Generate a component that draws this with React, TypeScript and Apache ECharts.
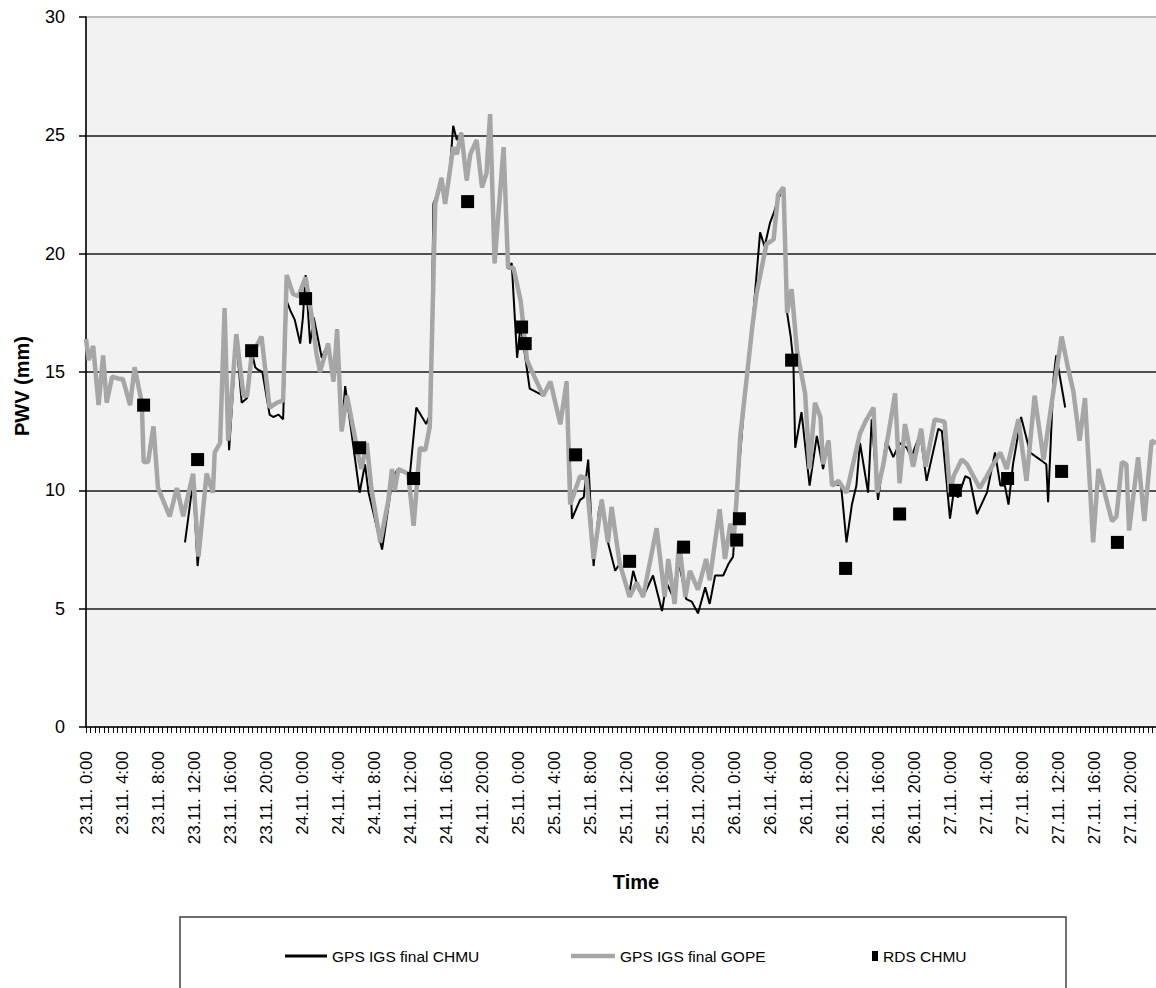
import React, { useEffect, useRef } from "react";
import * as echarts from "echarts";

// Time axis: hours since 23.11. 0:00
const TICK_LABELS = [
  "23.11. 0:00", "23.11. 4:00", "23.11. 8:00", "23.11. 12:00", "23.11. 16:00", "23.11. 20:00",
  "24.11. 0:00", "24.11. 4:00", "24.11. 8:00", "24.11. 12:00", "24.11. 16:00", "24.11. 20:00",
  "25.11. 0:00", "25.11. 4:00", "25.11. 8:00", "25.11. 12:00", "25.11. 16:00", "25.11. 20:00",
  "26.11. 0:00", "26.11. 4:00", "26.11. 8:00", "26.11. 12:00", "26.11. 16:00", "26.11. 20:00",
  "27.11. 0:00", "27.11. 4:00", "27.11. 8:00", "27.11. 12:00", "27.11. 16:00", "27.11. 20:00",
];

// GPS IGS final GOPE (gray)
const GOPE_T = [
  0.0, 0.3, 0.8, 1.4, 1.9, 2.3, 2.9, 3.8, 4.1, 4.9, 5.4, 6.2, 6.4, 6.9, 7.5, 8.0, 9.3, 10.1, 10.8, 11.9,
  12.5, 13.4, 14.1, 14.3, 14.9, 15.4, 15.8, 16.7, 17.5, 17.9, 18.4, 19.5, 20.4, 21.2, 21.9, 22.3, 23.0, 23.6, 24.4, 25.1,
  25.6, 26.0, 26.9, 27.5, 27.9, 28.4, 29.0, 30.3, 30.6, 31.2, 31.7, 32.7, 33.6, 34.0, 34.3, 34.7, 35.8, 36.4, 37.1, 37.7,
  38.2, 38.8, 39.5, 39.9, 40.4, 40.8, 41.2, 41.7, 42.3, 42.7, 43.4, 44.0, 44.5, 44.9, 45.4, 46.4, 46.9, 47.5, 48.3, 49.0,
  49.7, 50.8, 51.6, 52.7, 53.4, 53.8, 54.9, 55.6, 56.4, 57.3, 58.0, 58.4, 59.3, 60.4, 61.2, 61.9, 63.4, 64.3, 64.7, 65.4,
  65.9, 66.6, 67.1, 68.0, 68.9, 69.3, 70.4, 71.0, 71.6, 71.9, 72.3, 72.7, 73.4, 74.0, 74.5, 75.6, 76.4, 76.9, 77.5, 77.9,
  78.4, 79.0, 79.9, 80.4, 81.0, 81.6, 81.9, 82.5, 82.9, 83.6, 84.5, 86.0, 86.6, 87.5, 87.9, 88.6, 89.9, 90.4, 91.0, 91.9,
  92.8, 93.3, 94.3, 95.4, 96.0, 96.4, 97.3, 97.9, 99.3, 100.1, 100.8, 101.6, 102.3, 103.6, 104.5, 105.4, 106.4, 107.3, 108.4, 109.1,
  109.7, 110.4, 111.0, 111.9, 112.5, 114.0, 114.5, 115.1, 115.6, 115.9, 116.9, 117.6, 118.4, 118.9,
];
const GOPE_V = [
  16.4, 15.5, 16.1, 13.6, 15.7, 13.7, 14.8, 14.7, 14.7, 13.6, 15.2, 13.7, 11.2, 11.2, 12.7, 10.1, 8.9, 10.1, 8.9, 10.7,
  7.2, 10.7, 9.9, 11.6, 12.0, 17.7, 12.1, 16.6, 14.0, 14.0, 15.7, 16.5, 13.5, 13.7, 13.8, 19.1, 18.3, 18.2, 19.0, 17.3,
  15.8, 15.0, 16.2, 14.6, 16.8, 12.5, 14.0, 11.4, 10.9, 12.0, 10.1, 7.8, 9.6, 10.9, 10.0, 10.9, 10.7, 8.5, 11.8, 11.7,
  12.7, 22.1, 23.2, 22.1, 23.4, 24.5, 24.2, 25.1, 23.1, 24.2, 24.8, 22.8, 23.4, 25.9, 19.6, 24.5, 19.4, 19.4, 18.0, 15.5,
  14.9, 14.0, 14.6, 12.8, 14.6, 9.4, 10.6, 10.5, 7.1, 9.6, 7.8, 9.3, 6.9, 5.5, 6.1, 5.5, 8.4, 5.5, 7.1, 5.2,
  7.8, 5.5, 6.6, 5.8, 7.1, 6.2, 9.2, 7.1, 8.6, 7.6, 9.7, 12.3, 14.7, 16.8, 18.3, 20.4, 20.6, 22.5, 22.8, 17.5,
  18.5, 15.9, 14.1, 10.9, 13.7, 13.1, 11.1, 12.1, 10.2, 10.4, 9.9, 12.4, 12.9, 13.5, 9.9, 11.1, 14.1, 10.3, 12.8, 11.0,
  12.6, 11.0, 13.0, 12.9, 9.9, 10.6, 11.3, 11.1, 10.1, 10.6, 11.1, 11.6, 10.9, 13.0, 10.4, 14.0, 11.3, 13.7, 16.5, 15.2,
  14.2, 12.1, 13.9, 7.8, 10.9, 8.7, 8.9, 11.2, 11.1, 8.3, 11.4, 8.7, 12.1, 12.0,
];

// GPS IGS final CHMU (black)
const CHMU_T = [
  11.0, 11.9, 12.4, 13.4, 14.1, 14.3, 14.9, 15.4, 15.9, 16.7, 17.3, 17.9, 18.4, 18.8, 19.1, 19.6, 20.4, 20.8, 21.4, 21.9,
  22.3, 22.7, 23.2, 23.8, 24.1, 24.4, 24.9, 25.3, 26.2, 26.9, 27.5, 27.9, 28.4, 28.8, 30.4, 31.0, 31.4, 32.9, 34.1, 34.7,
  35.3, 36.0, 36.7, 37.8, 38.3, 38.6, 39.0, 39.5, 39.9, 40.4, 40.8, 41.2, 41.7, 42.3, 42.7, 43.4, 44.0, 44.5, 44.9, 45.4,
  46.4, 46.9, 47.3, 47.9, 48.3, 49.0, 49.3, 50.8, 51.6, 52.7, 53.4, 54.0, 54.9, 55.3, 55.8, 56.4, 57.0, 57.3, 58.0, 58.8,
  59.3, 60.3, 60.8, 61.4, 61.9, 63.0, 64.0, 64.5, 65.1, 65.9, 66.7, 67.3, 68.0, 68.8, 69.3, 69.9, 70.8, 71.4, 71.9, 72.3,
  73.4, 74.0, 74.9, 75.4, 76.0, 76.4, 76.9, 77.5, 77.9, 78.3, 78.6, 78.8, 79.5, 80.4, 81.2, 81.9, 82.5, 82.9, 83.9, 84.5,
  85.1, 85.6, 86.0, 86.9, 87.3, 88.0, 88.9, 89.7, 90.4, 91.2, 91.7, 92.7, 93.4, 94.7, 95.1, 96.0, 96.4, 96.9, 97.7, 98.2,
  99.0, 100.1, 101.0, 101.6, 102.1, 102.5, 103.0, 103.9, 104.9, 106.0, 106.7, 106.9, 107.5, 107.8, 108.8,
];
const CHMU_V = [
  7.8, 10.4, 6.8, 10.7, 9.9, 11.6, 12.0, 16.5, 11.7, 16.4, 13.7, 13.9, 15.9, 15.2, 15.1, 15.0, 13.2, 13.1, 13.2, 13.0,
  18.0, 17.6, 17.2, 16.2, 17.3, 19.1, 16.2, 17.3, 15.6, 16.2, 14.6, 16.8, 12.5, 14.4, 9.9, 11.1, 9.9, 7.5, 10.6, 10.9,
  10.8, 10.7, 13.5, 12.8, 13.3, 22.1, 22.5, 23.2, 22.1, 23.4, 25.4, 24.8, 25.1, 23.1, 24.2, 24.8, 22.8, 23.4, 25.9, 19.6,
  24.5, 19.4, 19.6, 15.6, 17.0, 15.1, 14.3, 14.0, 14.6, 12.8, 14.6, 8.8, 9.6, 9.7, 11.3, 6.8, 9.2, 9.6, 7.8, 6.6,
  6.9, 5.5, 6.6, 5.8, 5.5, 6.4, 4.9, 6.1, 5.6, 6.9, 5.4, 5.3, 4.8, 5.9, 5.2, 6.4, 6.4, 6.9, 7.2, 9.7,
  14.9, 16.8, 20.9, 20.3, 21.3, 21.7, 22.3, 22.8, 17.5, 16.5, 15.4, 11.8, 13.3, 10.2, 12.3, 10.9, 12.1, 10.3, 10.2, 7.8,
  9.4, 10.2, 12.0, 9.9, 13.0, 9.6, 12.1, 11.4, 12.0, 11.8, 11.4, 12.4, 10.4, 12.6, 12.5, 8.8, 9.9, 9.7, 10.6, 10.5,
  9.0, 9.9, 11.6, 10.2, 10.2, 9.4, 11.1, 13.1, 11.6, 11.3, 11.1, 9.5, 14.7, 15.7, 13.5,
];

// RDS CHMU (squares)
const RDS_T = [6.4, 12.4, 18.4, 24.4, 30.4, 36.4, 42.4, 48.4, 48.8, 54.4, 60.4, 66.4, 72.3, 72.6, 78.4, 84.4, 90.4, 96.6, 102.4, 108.4, 114.6];
const RDS_V = [13.6, 11.3, 15.9, 18.1, 11.8, 10.5, 22.2, 16.9, 16.2, 11.5, 7.0, 7.6, 7.9, 8.8, 15.5, 6.7, 9.0, 10.0, 10.5, 10.8, 7.8];

const zip = (t: number[], v: number[]) => t.map((x, i) => [x, v[i]]);

const FONT = "'Liberation Sans', Arial, sans-serif";
const NARROW = "'Liberation Sans Narrow', 'Liberation Sans', Arial, sans-serif";

export default function App() {
  const ref = useRef<HTMLDivElement>(null);
  useEffect(() => {
    document.body.style.margin = "0";
    document.body.style.overflow = "hidden";
    if (!ref.current) return;
    const chart = echarts.init(ref.current, undefined, { renderer: "svg" });
    const legendText = { fontFamily: NARROW, fontSize: 15.5, color: "#000" };
    chart.setOption({
      animation: false,
      backgroundColor: "#ffffff",
      grid: {
        left: 86,
        top: 17,
        right: 6,
        bottom: 261,
        show: true,
        backgroundColor: "#f2f2f2",
        borderColor: "#a6a6a6",
        borderWidth: 1.5,
      },
      xAxis: {
        type: "value",
        min: 0,
        max: 122,
        interval: 4,
        axisLine: { show: true, onZero: false, lineStyle: { color: "#000", width: 1.5 } },
        axisTick: { show: true, length: 6, lineStyle: { color: "#000", width: 1 } },
        minorTick: { show: true, splitNumber: 8, length: 6, lineStyle: { color: "#000", width: 1 } },
        splitLine: { show: false },
        axisLabel: {
          rotate: 90,
          margin: 24,
          fontFamily: FONT,
          fontSize: 17,
          color: "#000",
          showMaxLabel: false,
          formatter: (val: number) => TICK_LABELS[Math.round(val / 4)] ?? "",
        },
      },
      yAxis: {
        type: "value",
        min: 0,
        max: 30,
        interval: 5,
        axisLine: { show: true, lineStyle: { color: "#000", width: 1.5 } },
        axisTick: { show: true, length: 7, lineStyle: { color: "#000", width: 1.5 } },
        splitLine: { show: true, showMinLine: false, showMaxLine: false, lineStyle: { color: "#1a1a1a", width: 1.5 } },
        axisLabel: { margin: 21, fontFamily: FONT, fontSize: 18, color: "#000" },
      },
      legend: [
        {
          data: [{ name: "GPS IGS final CHMU", icon: "rect" }],
          left: 280,
          top: 943,
          itemWidth: 42,
          itemHeight: 3,
          textStyle: legendText,
        },
        {
          data: [{ name: "GPS IGS final GOPE", icon: "rect" }],
          left: 566,
          top: 943,
          itemWidth: 44,
          itemHeight: 4.5,
          textStyle: legendText,
        },
        {
          data: [{ name: "RDS CHMU", icon: "rect" }],
          left: 867,
          top: 943,
          itemWidth: 6,
          itemHeight: 10,
          textStyle: legendText,
        },
      ],
      graphic: [
        {
          type: "rect",
          shape: { x: 180, y: 917, width: 886, height: 120 },
          style: { fill: "#ffffff", stroke: "#404040", lineWidth: 1.5 },
          z: -1,
        },
        {
          type: "text",
          x: 636,
          y: 882,
          style: { text: "Time", fontFamily: FONT, fontSize: 20, fontWeight: "bold", fill: "#000", textAlign: "center", textVerticalAlign: "middle" },
        },
        {
          type: "text",
          x: 22,
          y: 386,
          rotation: Math.PI / 2,
          style: { text: "PWV (mm)", fontFamily: FONT, fontSize: 20, fontWeight: "bold", fill: "#000", textAlign: "center", textVerticalAlign: "middle" },
        },
      ],
      series: [
        {
          name: "GPS IGS final CHMU",
          type: "line",
          data: zip(CHMU_T, CHMU_V),
          symbol: "none",
          lineStyle: { color: "#000", width: 2 },
          itemStyle: { color: "#000" },
          z: 2,
        },
        {
          name: "GPS IGS final GOPE",
          type: "line",
          data: zip(GOPE_T, GOPE_V),
          symbol: "none",
          lineStyle: { color: "#a6a6a6", width: 4.5 },
          itemStyle: { color: "#a6a6a6" },
          z: 3,
        },
        {
          name: "RDS CHMU",
          type: "scatter",
          data: zip(RDS_T, RDS_V),
          symbol: "rect",
          symbolSize: 13,
          itemStyle: { color: "#000", opacity: 1 },
          z: 4,
        },
      ],
    });
    return () => chart.dispose();
  }, []);
  return <div ref={ref} style={{ width: 1190, height: 988 }} />;
}
